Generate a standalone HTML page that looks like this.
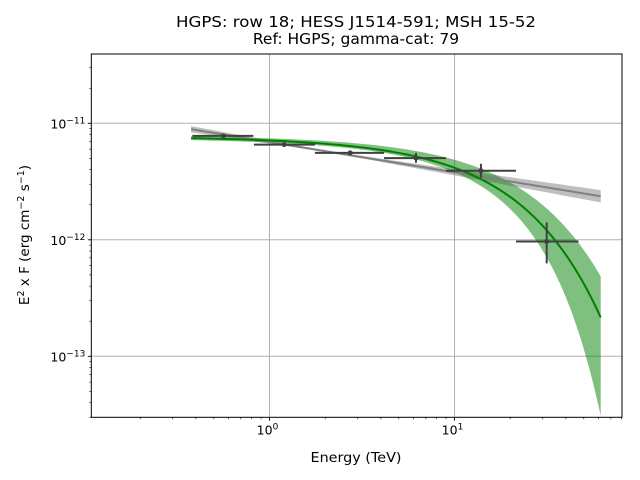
<!DOCTYPE html>
<html><head><meta charset="utf-8"><style>
html,body{margin:0;background:#fff;width:640px;height:480px;overflow:hidden;}
svg{display:block;font-family:"DejaVu Sans","Liberation Sans",sans-serif;}
</style></head><body>
<svg id="chart" width="640" height="480" viewBox="0 0 640 480" xmlns="http://www.w3.org/2000/svg" overflow="hidden">
<text x="356" y="27" text-anchor="middle" font-size="15.5" textLength="360" lengthAdjust="spacingAndGlyphs">HGPS: row 18; HESS J1514-591; MSH 15-52</text>
<text x="356" y="44" text-anchor="middle" font-size="15.5">Ref: HGPS; gamma-cat: 79</text>
<text x="356" y="462" text-anchor="middle" font-size="13.5" textLength="91" lengthAdjust="spacingAndGlyphs">Energy (TeV)</text>
<text transform="translate(29,235) rotate(-90)" text-anchor="middle" font-size="13.5">E<tspan font-size="9.5" dy="-5">2</tspan><tspan dy="5"> x F (erg cm</tspan><tspan font-size="9.5" dy="-5">−2</tspan><tspan dy="5"> s</tspan><tspan font-size="9.5" dy="-5">−1</tspan><tspan dy="5">)</tspan></text>
<g id="plot"></g>
</svg>
<script>
// data
const pointE = [0.563, 1.20, 2.73, 6.19, 13.9, 31.5];
const pointF = [7.79e-12, 6.56e-12, 5.57e-12, 5.02e-12, 3.91e-12, 9.67e-13];
const pointElo = [0.383, 0.824, 1.76, 4.16, 9.0, 21.5];
const pointEhi = [0.818, 1.76, 4.16, 9.0, 21.5, 46.8];
const pointFlo = [7.6e-12, 6.4e-12, 5.4e-12, 4.58e-12, 3.41e-12, 6.27e-13];
const pointFhi = [8.0e-12, 6.7e-12, 5.75e-12, 5.57e-12, 4.49e-12, 1.41e-12];
const plIndex = [2.26];
const plAmp = [8.9e-12];      // E^2 F at 0.377 TeV
const eclAmp = [7.12e-12];    // E^2 F at 1 TeV
const eclIndex = [2.012];
const eclCutoff = [17.6];
const modelRange = [0.377, 61.7];
const xTickVals = [1, 10];
const xTickExp = ["0", "1"];
const yTickVals = [1e-13, 1e-12, 1e-11];
const yTickExp = ["−13", "−12", "−11"];

const L=91.3,R=622,T=54,B=417.3;
const X0=269.5, XD=185, Y0=123.3, YD=116.5;
const sx=e=>X0+XD*Math.log10(e);
const sy=f=>Y0-YD*(Math.log10(f)+11);
const NS="http://www.w3.org/2000/svg";
const g=document.getElementById('plot');
function mk(tag,attrs,parent){const el=document.createElementNS(NS,tag);for(const k in attrs)el.setAttribute(k,attrs[k]);(parent||g).appendChild(el);return el;}

const clip=mk('clipPath',{id:'cp'});mk('rect',{x:L,y:T,width:R-L,height:B-T},clip);

const grid=mk('g',{});


xTickVals.forEach(v=>mk('line',{x1:sx(v),x2:sx(v),y1:T,y2:B,stroke:'#b0b0b0','stroke-width':1},grid));
yTickVals.forEach(v=>mk('line',{x1:L,x2:R,y1:sy(v),y2:sy(v),stroke:'#b0b0b0','stroke-width':1},grid));

const N=150;
const Es=[];for(let i=0;i<=N;i++)Es.push(modelRange[0]*Math.pow(modelRange[1]/modelRange[0],i/N));
const pl=e=>plAmp[0]*Math.pow(e/modelRange[0],2-plIndex[0]);
const ecpl=e=>eclAmp[0]*Math.pow(e,2-eclIndex[0])*Math.exp(-(e-1)/eclCutoff[0]);
const cg=mk('g',{'clip-path':'url(#cp)'});
function band(fn,upfn,lofn,fill,name){
  const up=Es.map(e=>[sx(e),Math.max(sy(fn(e)*Math.exp(upfn(e))),T-5)]);
  const lo=Es.map(e=>[sx(e),Math.min(sy(fn(e)*Math.exp(-lofn(e))),B+5)]).reverse();
  const p=mk('path',{d:'M'+up.concat(lo).map(p=>p.join(',')).join('L')+'Z',fill:fill},cg);
  
  
}
function line(fn,col,name){
  const p=mk('path',{d:'M'+Es.map(e=>sx(e)+','+sy(fn(e))).join('L'),fill:'none',stroke:col,'stroke-width':2},cg);
  
  
}
const plErr=e=>Math.sqrt(0.02*0.02+Math.pow(0.035*Math.log(e/2),2));
band(pl,plErr,plErr,'rgba(128,128,128,0.5)','powerlaw-band');
band(ecpl,e=>0.03+0.0127*e,e=>0.04+0.0005*e*e,'rgba(0,128,0,0.5)','ecpl-band');
line(pl,'#808080','powerlaw-line');
line(ecpl,'#008000','ecpl-line');

pointE.forEach((e,i)=>{
  const pg=mk('g',{stroke:'#404040','stroke-width':2},cg);
  
  
  mk('line',{x1:sx(pointElo[i]),x2:sx(pointEhi[i]),y1:sy(pointF[i]),y2:sy(pointF[i])},pg);
  mk('line',{x1:sx(e),x2:sx(e),y1:sy(pointFlo[i]),y2:sy(pointFhi[i])},pg);
  mk('circle',{cx:sx(e),cy:sy(pointF[i]),r:2.5,fill:'#404040',stroke:'none'},pg);
});

const ax=mk('g',{});


mk('rect',{x:L,y:T,width:R-L,height:B-T,fill:'none',stroke:'#000','stroke-width':1},ax);
for(let d=-1;d<=1;d++)for(let m=1;m<10;m++){const v=m*Math.pow(10,d);const x=sx(v);if(x<L||x>R)continue;
  const len=m===1?3.5:2;mk('line',{x1:x,x2:x,y1:B,y2:B+len,stroke:'#000','stroke-width':m===1?0.9:0.6},ax);}
xTickVals.forEach((v,i)=>{const t=mk('text',{x:sx(v)-2,y:B+17,'text-anchor':'middle','font-size':12.5},ax);
  
  
  t.innerHTML='10<tspan font-size="9" dy="-5">'+xTickExp[i]+'</tspan>';});
for(let d=-14;d<=-11;d++)for(let m=1;m<10;m++){const v=m*Math.pow(10,d);const y=sy(v);if(y<T||y>B)continue;
  const len=m===1?3.5:2;mk('line',{x1:L-len,x2:L,y1:y,y2:y,stroke:'#000','stroke-width':m===1?0.9:0.6},ax);}
yTickVals.forEach((v,i)=>{const t=mk('text',{x:L-6,y:sy(v)+5,'text-anchor':'end','font-size':12.5},ax);
  
  
  t.innerHTML='10<tspan font-size="9" dy="-5">'+yTickExp[i]+'</tspan>';});
</script>
</body></html>
